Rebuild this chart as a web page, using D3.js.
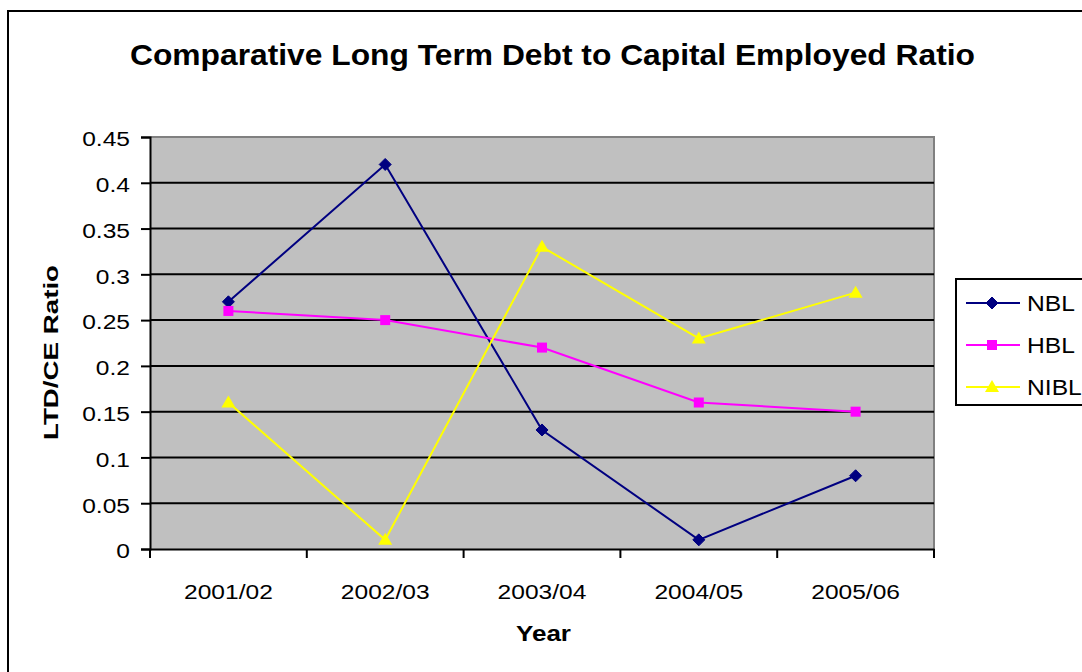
<!DOCTYPE html>
<html><head><meta charset="utf-8">
<script src="https://cdn.jsdelivr.net/npm/d3@7"></script>
<style>
body{margin:0;background:#fff;}
text{font-family:"Liberation Sans",Arial,sans-serif;fill:#000;}
</style></head>
<body><svg id="c" width="1082" height="672"></svg>
<script>
const categories = ["2001/02","2002/03","2003/04","2004/05","2005/06"];
const seriesNames = ["NBL","HBL","NIBL"];
const nblValues  = [0.27, 0.42, 0.13, 0.01, 0.08];
const hblValues  = [0.26, 0.25, 0.22, 0.16, 0.15];
const niblValues = [0.16, 0.01, 0.33, 0.23, 0.28];
const yTicks = [0,0.05,0.1,0.15,0.2,0.25,0.3,0.35,0.4,0.45];
const yTickLabels = ["0","0.05","0.1","0.15","0.2","0.25","0.3","0.35","0.4","0.45"];
const titleText = "Comparative Long Term Debt to Capital Employed Ratio";
const yTitle = "LTD/CE Ratio";
const xTitle = "Year";

const series = [
  {name: seriesNames[0], values: nblValues, color:"#000080", marker:"diamond"},
  {name: seriesNames[1], values: hblValues, color:"#FF00FF", marker:"square"},
  {name: seriesNames[2], values: niblValues, color:"#FFFF00", marker:"triangle"}
];

const svg = d3.select("#c");
// outer chart border
svg.append("rect").attr("x",8).attr("y",11).attr("width",1100).attr("height",700)
  .attr("fill","#fff").attr("stroke","#000").attr("stroke-width",2);

const L=150, R=934, T=137, B=549;
const x = d3.scaleBand().domain(categories).range([L,R]);
const y = d3.scaleLinear().domain([0,0.45]).range([B,T]);

// plot background
svg.append("rect").attr("x",L).attr("y",T).attr("width",R-L).attr("height",B-T)
  .attr("fill","#C0C0C0");
// top & right gray border
svg.append("path").attr("d",`M${L},${T}H${R}V${B}`).attr("fill","none")
  .attr("stroke","#808080").attr("stroke-width",2);

// gridlines
svg.append("g").selectAll("line").data(yTicks.slice(1,-1)).join("line")
  .attr("x1",L).attr("x2",R).attr("y1",d=>y(d)).attr("y2",d=>y(d))
  .attr("stroke","#000").attr("stroke-width",2);

// y axis
const yAxis = d3.axisLeft(y).tickValues(yTicks).tickFormat((d,i)=>yTickLabels[i]).tickSize(9).tickPadding(10);
const gy = svg.append("g").attr("transform",`translate(${L},0)`).call(yAxis);
gy.select(".domain").attr("stroke","#000").attr("stroke-width",2);
gy.selectAll(".tick line").attr("stroke","#000").attr("stroke-width",2);
gy.selectAll(".tick text").attr("font-size",21).attr("fill","#000")
  .attr("font-family",'"Liberation Sans",Arial,sans-serif')
  .attr("x",0).attr("dy","0.42em")
  .attr("transform","translate(-20,0) scale(1.17,1)");

// x axis
const xAxis = d3.axisBottom(x).tickSize(0).tickPadding(0);
const gx = svg.append("g").attr("transform",`translate(0,${B})`).call(xAxis);
gx.select(".domain").attr("stroke","#000").attr("stroke-width",2);
gx.selectAll(".tick text").attr("font-size",21).attr("fill","#000")
  .attr("font-family",'"Liberation Sans",Arial,sans-serif')
  .attr("y",0).attr("dy",0)
  .attr("transform","translate(0,50) scale(1.17,1)");
// category boundary ticks
const bounds = categories.map(c=>x(c)).concat([R]);
svg.append("g").selectAll("line").data(bounds).join("line")
  .attr("x1",d=>d).attr("x2",d=>d).attr("y1",B).attr("y2",B+9)
  .attr("stroke","#000").attr("stroke-width",2);

const cx = c => x(c) + x.bandwidth()/2;

function drawMarker(g, type, px, py, color){
  if(type==="diamond"){
    g.append("path").attr("d",`M${px},${py-6}L${px+6},${py}L${px},${py+6}L${px-6},${py}Z`)
      .attr("fill",color).attr("stroke",color).attr("stroke-width",1);
  } else if(type==="square"){
    g.append("rect").attr("x",px-5).attr("y",py-5).attr("width",10).attr("height",10)
      .attr("fill",color);
  } else {
    g.append("path").attr("d",`M${px},${py-7}L${px+7},${py+5}L${px-7},${py+5}Z`)
      .attr("fill",color);
  }
}

const line = d3.line().x((d,i)=>cx(categories[i])).y(d=>y(d));
series.forEach(s=>{
  svg.append("path").datum(s.values).attr("d",line).attr("fill","none")
    .attr("stroke",s.color).attr("stroke-width",2);
  const g = svg.append("g");
  s.values.forEach((v,i)=>drawMarker(g,s.marker,cx(categories[i]),y(v),s.color));
});

// title
svg.append("text").attr("x",552.5).attr("y",65).attr("text-anchor","middle")
  .attr("font-size",30).attr("font-weight","bold")
  .attr("textLength",845).attr("lengthAdjust","spacingAndGlyphs").text(titleText);
// y title
svg.append("text").attr("transform","translate(58,352.5) rotate(-90)").attr("text-anchor","middle")
  .attr("font-size",21).attr("font-weight","bold")
  .attr("textLength",175).attr("lengthAdjust","spacingAndGlyphs").text(yTitle);
// x title
svg.append("text").attr("x",543.5).attr("y",641).attr("text-anchor","middle")
  .attr("font-size",22).attr("font-weight","bold")
  .attr("textLength",55).attr("lengthAdjust","spacingAndGlyphs").text(xTitle);

// legend
const lg = svg.append("g");
lg.append("rect").attr("x",956).attr("y",279).attr("width",140).attr("height",126)
  .attr("fill","#fff").attr("stroke","#000").attr("stroke-width",2);
series.forEach((s,i)=>{
  const ly = 303 + i*42;
  lg.append("line").attr("x1",966).attr("x2",1020).attr("y1",ly).attr("y2",ly)
    .attr("stroke",s.color).attr("stroke-width",2);
  drawMarker(lg,s.marker,992,ly,s.color);
  lg.append("text").attr("transform",`translate(1027,${ly+8}) scale(1.12,1)`)
    .attr("font-size",22).text(s.name);
});
</script></body></html>
